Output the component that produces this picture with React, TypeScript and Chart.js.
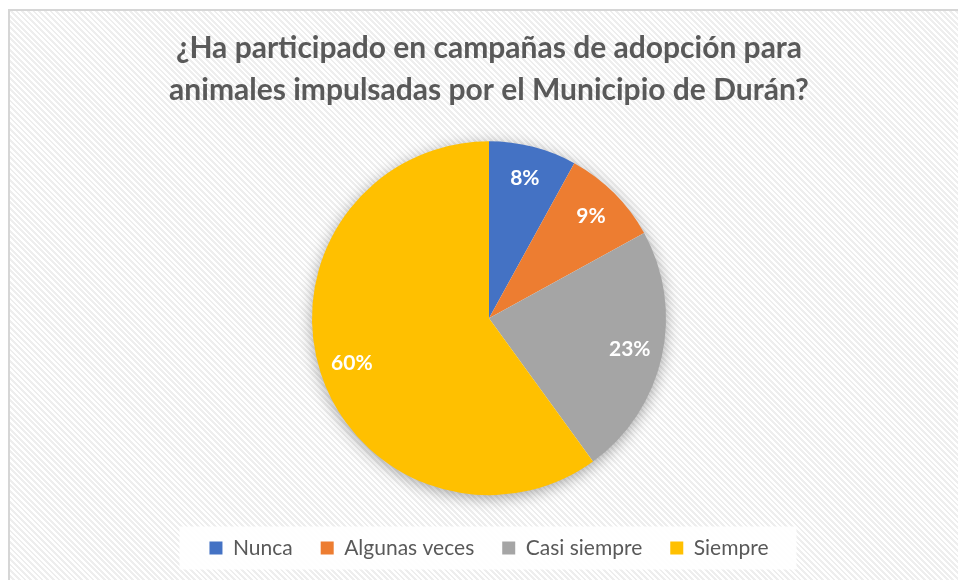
import React, { useEffect, useRef } from "react";
import { Chart, registerables } from "chart.js";

Chart.register(...registerables);

const titleLines = [
  "¿Ha participado en campañas de adopción para",
  "animales impulsadas por el Municipio de Durán?",
];
const categories = ["Nunca", "Algunas veces", "Casi siempre", "Siempre"];
const values = [8, 9, 23, 60];
const colors = ["#4472C4", "#ED7D31", "#A5A5A5", "#FFC000"];

const shadowPlugin = {
  id: "pieShadow",
  beforeDatasetsDraw(chart: any) {
    const meta = chart.getDatasetMeta(0);
    const arc = meta.data[0];
    if (!arc) return;
    const { x, y, outerRadius } = arc.getProps(["x", "y", "outerRadius"], true);
    const ctx = chart.ctx;
    ctx.save();
    ctx.shadowColor = "rgba(0,0,0,0.38)";
    ctx.shadowBlur = 16;
    ctx.shadowOffsetX = 0;
    ctx.shadowOffsetY = 3;
    ctx.beginPath();
    ctx.arc(x, y, outerRadius - 1, 0, Math.PI * 2);
    ctx.fillStyle = "#ffffff";
    ctx.fill();
    ctx.restore();
  },
};

const labelPlugin = {
  id: "sliceLabels",
  afterDatasetsDraw(chart: any) {
    const meta = chart.getDatasetMeta(0);
    const data = chart.data.datasets[0].data as number[];
    const total = data.reduce((a, b) => a + b, 0);
    const ctx = chart.ctx;
    ctx.save();
    ctx.fillStyle = "#ffffff";
    ctx.font = "bold 21px Lato";
    ctx.textAlign = "center";
    ctx.textBaseline = "middle";
    meta.data.forEach((arc: any, i: number) => {
      const { x, y, startAngle, endAngle, outerRadius } = arc.getProps(
        ["x", "y", "startAngle", "endAngle", "outerRadius"],
        true
      );
      const mid = (startAngle + endAngle) / 2;
      const r = outerRadius * 0.815;
      const pct = Math.round((data[i] / total) * 100) + "%";
      ctx.fillText(pct, x + Math.cos(mid) * r, y + Math.sin(mid) * r);
    });
    ctx.restore();
  },
};

const legendBoxPlugin = {
  id: "legendBox",
  beforeDraw(chart: any) {
    const legend = chart.legend;
    if (!legend || !legend.legendHitBoxes || !legend.legendHitBoxes.length) return;
    const boxes = legend.legendHitBoxes;
    let l = Infinity, r = -Infinity, t = Infinity, b = -Infinity;
    boxes.forEach((h: any) => {
      l = Math.min(l, h.left);
      r = Math.max(r, h.left + h.width);
      t = Math.min(t, h.top);
      b = Math.max(b, h.top + h.height);
    });
    const ctx = chart.ctx;
    ctx.save();
    ctx.fillStyle = "rgba(255,255,255,0.92)";
    ctx.fillRect(l - 30, t - 11, r - l + 58, b - t + 22);
    ctx.restore();
  },
};

export default function App() {
  const ref = useRef<HTMLCanvasElement>(null);
  useEffect(() => {
    if (!ref.current) return;
    const chart = new Chart(ref.current, {
      type: "pie",
      data: {
        labels: categories,
        datasets: [
          {
            data: values,
            backgroundColor: colors,
            borderWidth: 0,
            radius: 177,
          },
        ],
      },
      options: {
        responsive: false,
        animation: false,
        layout: { padding: { left: 20, right: 0, top: 0, bottom: 11.5 } },
        plugins: {
          tooltip: { enabled: false },
          title: {
            display: true,
            text: titleLines,
            color: "#595959",
            font: { family: "Lato", size: 30, weight: "bold", lineHeight: 42 / 30 },
            padding: { top: 27, bottom: 16 },
          },
          legend: {
            display: true,
            position: "bottom",
            labels: {
              color: "#595959",
              font: { family: "Lato", size: 21 },
              boxWidth: 13,
              boxHeight: 13,
              padding: 28,
            },
          },
        },
      },
      plugins: [legendBoxPlugin, shadowPlugin, labelPlugin],
    });
    return () => chart.destroy();
  }, []);

  return (
    <div
      style={{
        position: "fixed",
        left: 0,
        top: 0,
        width: 958,
        height: 580,
        background: "#ffffff",
        overflow: "hidden",
      }}
    >
      <div
        style={{
          position: "absolute",
          left: 8,
          top: 9,
          right: 0,
          bottom: 0,
          borderTop: "2px solid #d6d6d6",
          borderLeft: "2px solid #d6d6d6",
          background:
            "repeating-linear-gradient(45deg, #ffffff 0px, #ffffff 2px, #eeeeee 2px, #eeeeee 4px)",
        }}
      />
      <canvas
        ref={ref}
        width={958}
        height={580}
        style={{ position: "absolute", left: 0, top: 0 }}
      />
    </div>
  );
}
